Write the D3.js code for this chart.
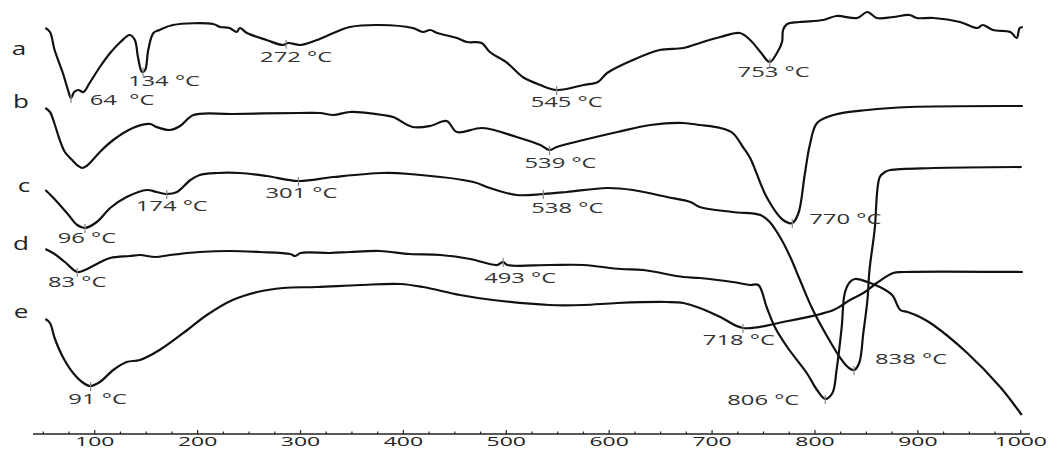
<!DOCTYPE html>
<html><head><meta charset="utf-8">
<script src="https://cdn.jsdelivr.net/npm/d3@7"></script>
<style>body{margin:0;background:#fff}svg{display:block}text{white-space:pre}</style>
</head><body>
<svg id="chart" width="1059" height="450"></svg>
<script>
// ---- DATA (temperature °C, DTA signal in arbitrary units, curves are offset vertically) ----
const seriesNames = ["a", "b", "c", "d", "e"];

const curveA = [[52,406],[56.5,402],[61,384],[69,361],[74,344],[77,336],[80,342],[84,344],[89,342],[95,351],[105,367],[115,381],[125,392],[134,399],[139,394],[142,377],[146,362],[149,364],[152,384],[157,401],[163,404],[176,409],[215,410],[222,407],[231,406],[238,402],[241,406],[248,401],[267,394],[283,389],[288,391],[300,389],[316,394],[332,401],[348,407],[377,409],[409,406],[419,402],[426,404],[433,401],[452,396],[462,392],[476,391],[484,382],[501,371],[516,357],[533,349],[549,344],[575,349],[589,352],[598,361],[623,374],[649,384],[672,386],[691,392],[708,397],[727,401],[737,394],[747,382],[756,372],[763,381],[768,392],[769,404],[773,410],[785,412],[808,414],[821,418],[841,416],[851,422],[860,416],[876,417],[892,419],[899,416],[915,416],[941,412],[958,406],[963,409],[973,404],[990,402],[996,396],[999,406],[1002,407]];

const curveB = [[52,326],[56.5,322],[61,310],[66,294],[71,282],[78,274],[84,268],[88,266],[92,268],[98,274],[105,282],[118,294],[137,306],[154,310],[160,307],[173,304],[183,308],[196,319],[234,320],[300,321],[319,321],[332,319],[348,322],[380,319],[390,317],[409,307],[426,308],[442,313],[452,302],[477,306],[510,297],[533,289],[542,284],[549,287],[575,294],[608,302],[640,309],[672,311],[688,309],[708,306],[720,301],[730,287],[737,276],[753,237],[769,214],[778,211],[784,221],[790,259],[795,289],[802,311],[818,319],[851,324],[892,327],[1002,328]];

const curveC = [[52,244],[59,237],[73,221],[83,209],[90.5,206],[102,212],[115,226],[131,237],[151,244],[160,242],[170,240],[180,242],[193,254],[202,259],[219,261],[241,261],[267,258],[298,253],[332,257],[380,261],[406,260],[468,252],[484,246],[510,239],[536,240],[559,242],[598,246],[623,244],[656,237],[679,232],[688,227],[720,222],[747,219],[756,212],[766,197],[776,177],[785,155],[798,124],[815,92],[824,77],[832,67],[838,64],[843,71],[847,101],[851,134],[853,164],[858,204],[863,257],[868,262],[873,264],[915,266],[1001,267]];

const curveD = [[52,185],[61,180],[71,172],[83,162],[90.5,164],[100,169],[115,176],[134,178],[144,179],[159,177],[173,179],[202,182],[231,183],[261,182],[290,180],[295,178],[300,181],[329,181],[348,182],[377,183],[406,180],[436,179],[465,175],[491,169],[497,172],[501,169],[542,169],[575,169],[611,165],[633,164],[672,157],[688,156],[720,152],[737,149],[745,149],[753,127],[761,107],[773,87],[792,61],[802,44],[810,35],[817,41],[821,64],[826,107],[829,141],[834,152],[839,155],[851,152],[863,147],[875,139],[883,124],[890,122],[902,117],[915,109],[948,81],[980,47],[1001,19]];

const curveE = [[52,115],[56.5,111],[61,96],[69,77],[79,61],[89,51],[96,48],[105,52],[118,64],[131,72],[144,74],[163,84],[190,104],[209,119],[234,134],[258,142],[283,146],[316,147],[358,149],[397,150],[419,147],[455,139],[487,134],[542,129],[575,129],[608,131],[656,132],[672,131],[688,126],[708,117],[730,106],[769,112],[818,124],[834,134],[847,141],[860,151],[876,161],[886,162],[1002,162]];

// peak annotations: series, temperature of marker, label text
const peakSeries = ["a","a","a","a","a","b","b","c","c","c","c","c","d","d","d","e","e"];
const peakTemps  = [77,146.9,286,549,756,542,778,90.5,170,298,536,838,83,497,810,96,730];
const peakLabels = ["64  °C","134 °C","272 °C","545 °C","753 °C","539 °C","770 °C","96 °C","174 °C","301 °C","538 °C","838 °C","83 °C","493 °C","806 °C","91 °C","718 °C"];

const xTicks = [100,200,300,400,500,600,700,800,900,1000];
const xTickLabels = ["100","200","300","400","500","600","700","800","900","1000"];

// ---- LAYOUT ----
const curves = {a: curveA, b: curveB, c: curveC, d: curveD, e: curveE};
const labelOffsets = [[51,7],[21,15],[10,18],[10,17],[4,15],[11,18],[53,1],[2,15],[5,17],[3,17],[24,19],[57,-6],[0,15],[17,21],[-62,6],[7,18],[-4,17]];
const letterPos = {a:[19,55], b:[21,108], c:[24,192], d:[21,250], e:[21,318]};
const SX = 1.7;

const svg = d3.select("#chart");
const x = d3.scaleLinear().domain([40, 1009]).range([33, 1030]);
const y = d3.scaleLinear().domain([0, 434]).range([434, 0]);

const line = d3.line().x(d => x(d[0])).y(d => y(d[1])).curve(d3.curveCatmullRom.alpha(0.5));

seriesNames.forEach(n => {
  svg.append("path").datum(curves[n]).attr("d", line)
    .attr("fill", "none").attr("stroke", "#111").attr("stroke-width", 2.2)
    .attr("stroke-linejoin", "round");
});

function valueAt(data, t) {
  for (let i = 1; i < data.length; i++) {
    if (data[i][0] >= t) {
      const a = data[i-1], b = data[i];
      const f = (t - a[0]) / (b[0] - a[0] || 1);
      return a[1] + f * (b[1] - a[1]);
    }
  }
  return data[data.length-1][1];
}

peakTemps.forEach((t, i) => {
  const v = valueAt(curves[peakSeries[i]], t);
  const px = x(t), py = y(v);
  svg.append("line").attr("x1", px).attr("x2", px).attr("y1", py - 4).attr("y2", py + 5)
    .attr("stroke", "#888").attr("stroke-width", 1.2);
  svg.append("text").text(peakLabels[i])
    .attr("transform", `translate(${px + labelOffsets[i][0]},${py + labelOffsets[i][1]}) scale(${SX},1)`)
    .attr("text-anchor", "middle").attr("font-family", "'Open Sans', sans-serif")
    .attr("font-size", 14).attr("fill", "#333");
});

seriesNames.forEach(n => {
  svg.append("text").text(n)
    .attr("transform", `translate(${letterPos[n][0]},${letterPos[n][1]}) scale(1.45,1)`)
    .attr("text-anchor", "middle").attr("font-family", "'Open Sans', sans-serif")
    .attr("font-size", 18).attr("fill", "#222");
});

// axis
const axisY = y(0);
const ax = svg.append("g");
ax.append("line").attr("x1", 33).attr("x2", 1030).attr("y1", axisY).attr("y2", axisY)
  .attr("stroke", "#222").attr("stroke-width", 1.3);
const minor = d3.range(50, 1001, 25);
ax.selectAll("line.mt").data(minor).enter().append("line")
  .attr("x1", d => x(d)).attr("x2", d => x(d))
  .attr("y1", axisY).attr("y2", d => axisY - (d % 100 === 0 ? 4 : 2.5))
  .attr("stroke", "#222").attr("stroke-width", 1.2);
ax.selectAll("text").data(xTicks).enter().append("text")
  .text((d, i) => xTickLabels[i])
  .attr("transform", d => `translate(${x(d)},${axisY + 12}) scale(${SX},1)`)
  .attr("text-anchor", "middle").attr("font-family", "'Open Sans', sans-serif")
  .attr("font-size", 13.5).attr("fill", "#222");
</script>
</body></html>
